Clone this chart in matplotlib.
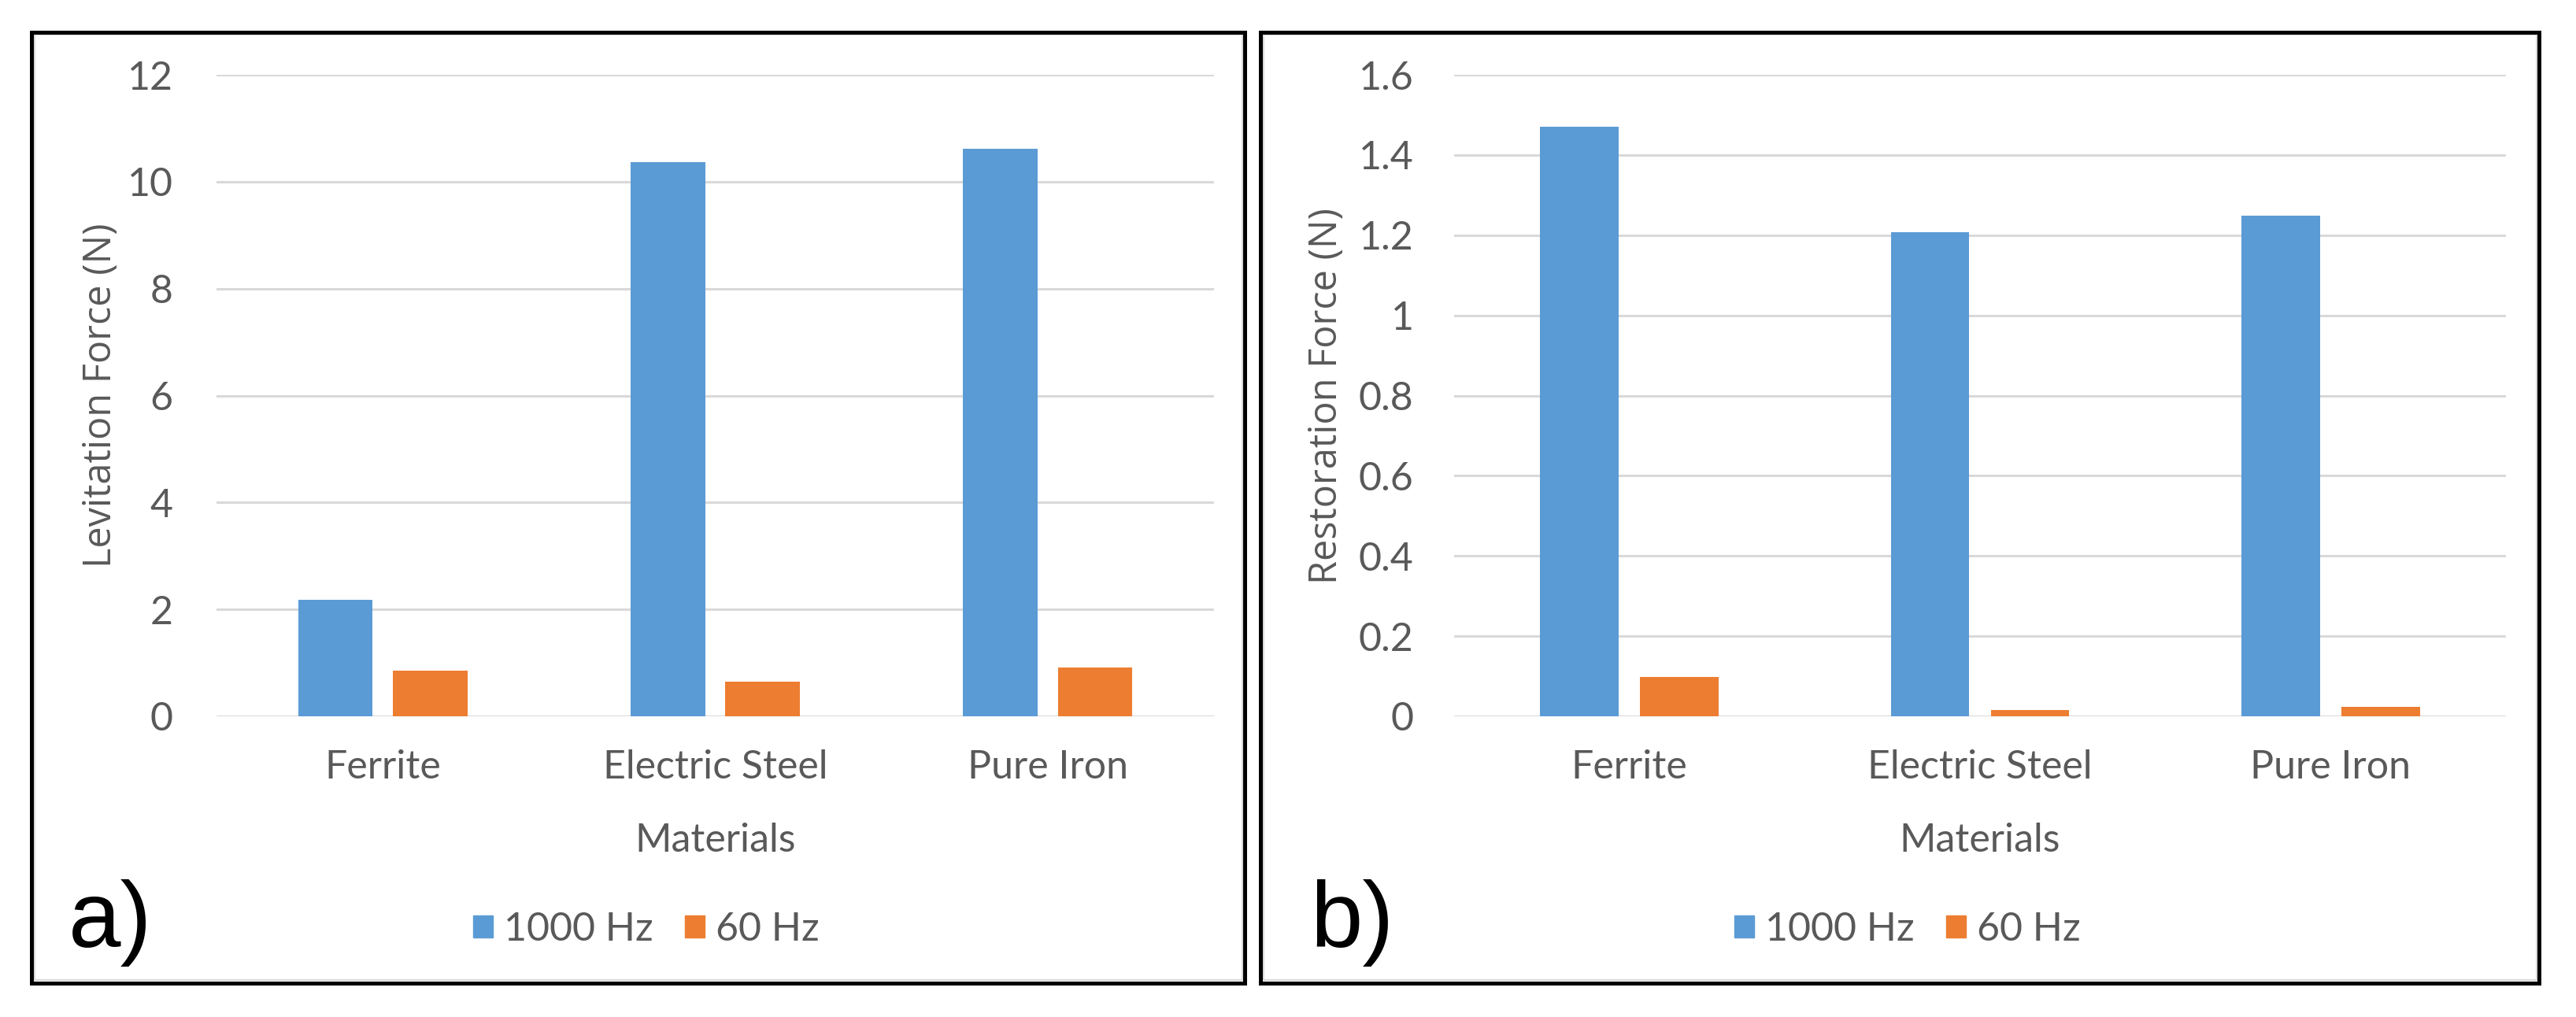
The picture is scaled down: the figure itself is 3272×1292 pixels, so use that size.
import matplotlib
matplotlib.use("Agg")
import matplotlib.pyplot as plt
import numpy as np
from matplotlib.patches import Rectangle, Patch

categories = ["Ferrite", "Electric Steel", "Pure Iron"]
series_names = ["1000 Hz", "60 Hz"]
levitation_1000 = [2.18, 10.36, 10.61]
levitation_60 = [0.86, 0.65, 0.91]
restoration_1000 = [1.471, 1.207, 1.249]
restoration_60 = [0.098, 0.016, 0.024]
lev_ticks = [0, 2, 4, 6, 8, 10, 12]
lev_ticklabels = ["0", "2", "4", "6", "8", "10", "12"]
res_ticks = [0, 0.2, 0.4, 0.6, 0.8, 1.0, 1.2, 1.4, 1.6]
res_ticklabels = ["0", "0.2", "0.4", "0.6", "0.8", "1", "1.2", "1.4", "1.6"]

BLUE = "#5B9BD5"
ORANGE = "#ED7D31"
GRID = "#D9D9D9"
TXT = "#595959"
CAL = ["Lato", "Liberation Sans", "DejaVu Sans"]
SEG = ["Open Sans", "DejaVu Sans"]

W, H = 3272, 1292
fig = plt.figure(figsize=(W / 100, H / 100), dpi=100)
renderer = fig.canvas.get_renderer()


def fit_size(s, family, target_px, base=40):
    t = fig.text(0, 0, s, family=family, fontsize=base)
    w = t.get_window_extent(renderer).width
    t.remove()
    return base * target_px / w


FS = (fit_size("Ferrite", CAL, 148) + fit_size("Materials", CAL, 211) + fit_size("1000 Hz", CAL, 182)) / 3


def fx(px):
    return px / W


def fy(py):
    return 1 - py / H


# panel frames
for (x0, x1) in [(40, 1581), (1601, 3225)]:
    fig.patches.append(Rectangle((fx(x0 + 3.5), fy(1248.5 - 3.5)), fx(x1 - x0 - 7), (1248.5 - 40.5 - 7) / H,
                                 transform=fig.transFigure, fill=False, ec=GRID, lw=1.5, zorder=0))
    fig.patches.append(Rectangle((fx(x0), fy(1248.5)), fx(x1 - x0), (1248.5 - 40.5) / H,
                                 transform=fig.transFigure, fill=False, ec="black", lw=3.6, zorder=1))


def make_panel(left_px, right_px, v1000, v60, ticks, ticklabels, ylim, ylabel, ylab_x, ytick_pad, leg_x, letter, letter_x):
    ax = fig.add_axes([fx(left_px), fy(910), fx(right_px - left_px), (910 - 95) / H])
    x = np.arange(len(categories))
    off = 0.1425
    wdt = 0.224
    ax.bar(x - off, v1000, width=wdt, color=BLUE, label=series_names[0], zorder=3)
    ax.bar(x + off, v60, width=wdt, color=ORANGE, label=series_names[1], zorder=3)
    ax.set_xlim(-0.5, len(categories) - 0.5)
    ax.set_ylim(*ylim)
    ax.set_yticks(ticks)
    ax.set_yticklabels(ticklabels, family=CAL, fontsize=FS, color=TXT)
    ax.set_xticks(x)
    ax.set_xticklabels(categories, family=CAL, fontsize=FS, color=TXT)
    ax.tick_params(axis="y", length=0, pad=ytick_pad)
    ax.tick_params(axis="x", length=0, pad=30)
    for s in ax.spines.values():
        s.set_visible(False)
    ax.grid(axis="y", color=GRID, lw=2.2, zorder=0)
    ax.set_axisbelow(True)
    ax.set_xlabel("Materials", family=CAL, fontsize=FS, color=TXT)
    ax.xaxis.label.set_va("baseline")
    ax.xaxis.set_label_coords(0.5, -0.211)
    ax.set_ylabel(ylabel, family=SEG, fontsize=35, color=TXT)
    ax.yaxis.label.set_va("center")
    ax.yaxis.set_label_coords(ylab_x, 0.5)
    handles = [Patch(color=BLUE), Patch(color=ORANGE)]
    ax.legend(handles, series_names, loc="center", bbox_to_anchor=(leg_x, -0.3325), ncol=2, frameon=False,
              prop={"family": CAL, "size": FS}, labelcolor=TXT, handlelength=0.5, handleheight=0.5,
              handletextpad=0.28, columnspacing=0.8, borderaxespad=0, borderpad=0)
    fig.text(fx(letter_x), fy(1203), letter, family=["Liberation Sans", "DejaVu Sans"], fontsize=86,
             color="black", ha="left", va="baseline")
    return ax


make_panel(275, 1542, levitation_1000, levitation_60, lev_ticks, lev_ticklabels, (0, 12),
           "Levitation Force (N)", -0.116, 40, 0.431, "a)", 87)
make_panel(1847, 3183, restoration_1000, restoration_60, res_ticks, res_ticklabels, (0, 1.6),
           "Restoration Force (N)", -0.1209, 37, 0.4308, "b)", 1664)

fig.savefig("out.png", dpi=100, facecolor="white")
